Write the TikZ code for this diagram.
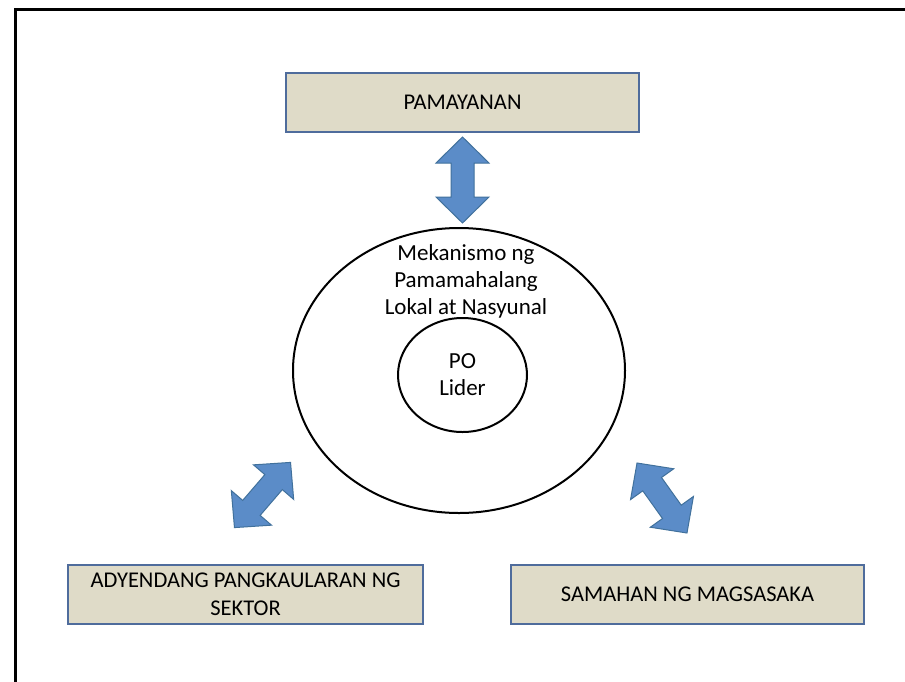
\documentclass[tikz,border=0pt]{standalone}
\usepackage{fontspec}
\setmainfont{Carlito}
\usetikzlibrary{shapes.geometric}
\definecolor{boxfill}{HTML}{DFDBC8}
\definecolor{boxline}{HTML}{4F6C9C}
\definecolor{arrfill}{HTML}{5B8CC8}
\definecolor{arrline}{HTML}{41719C}
\tikzset{
  infobox/.style={draw=boxline, fill=boxfill, line width=2.5pt, rectangle,
    minimum height=59pt, inner sep=1pt, align=center,
    font=\fontsize{22.5}{28}\selectfont},
  ring/.style={draw=black, line width=2pt, ellipse, inner sep=0pt},
  lbl/.style={align=center, font=\fontsize{23}{27}\selectfont, inner sep=0pt},
  blockarrow/.pic={
    \filldraw[fill=arrfill, draw=arrline, line width=1pt]
      (43,0) -- (17,26.5) -- (17,11.5) -- (-17,11.5) -- (-17,26.5) -- (-43,0)
      -- (-17,-26.5) -- (-17,-11.5) -- (17,-11.5) -- (17,-26.5) -- cycle;
    \coordinate (-tip) at (43,0);
    \coordinate (-tail) at (-43,0);
  }
}
\begin{document}
\begin{tikzpicture}[x=1pt,y=1pt]
\useasboundingbox (0,0) rectangle (905,-681);
\fill[white] (0,0) rectangle (905,-681);
\draw[line width=3pt] (15.5,-9.5) rectangle (925,-700);

\node[infobox, minimum width=353pt] (pam) at (462.5,-102.5) {PAMAYANAN};
\node[infobox, minimum width=355pt] (ady) at (245.5,-594.5) {ADYENDANG PANGKAULARAN NG\\SEKTOR};
\node[infobox, minimum width=353pt] (sam) at (687.5,-594.5) {SAMAHAN NG MAGSASAKA};

\node[ring, minimum width=332pt, minimum height=285pt] (outer) at (459,-370.5) {};
\node[ring, minimum width=129pt, minimum height=114pt] (inner) at (462.5,-375) {};
\node[lbl] (mek) at (466,-281) {Mekanismo ng\\Pamamahalang\\Lokal at Nasyunal};
\node[lbl] (po) at (inner.center) {PO\\Lider};

\pic (a1) [rotate=90] at (462.5,-180) {blockarrow};
\pic (a2) [rotate=49.3] at (262.5,-495) {blockarrow};
\pic (a3) [rotate=-54.5] at (662,-498) {blockarrow};
\end{tikzpicture}
\end{document}
